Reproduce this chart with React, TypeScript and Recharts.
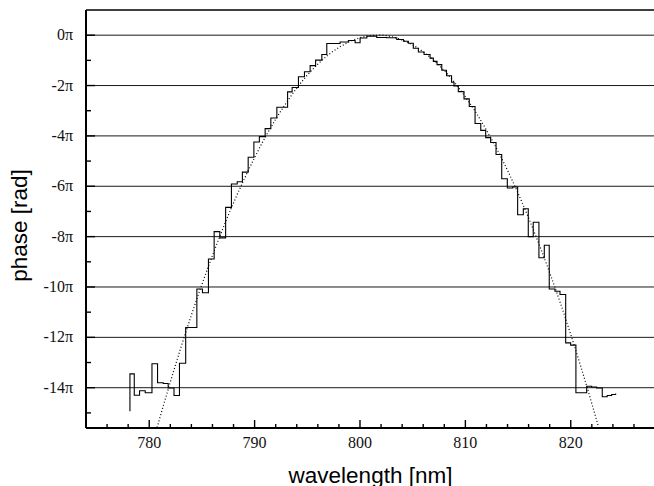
import React from 'react';
import { LineChart, Line, XAxis, YAxis, ReferenceLine, Label } from 'recharts';

// measured spectral phase (staircase), wavelength in nm, phase in units of pi
const measuredWavelength = [
  778.17, 778.17, 778.58, 779.08, 779.62, 780.26, 780.79, 781.33, 781.8, 782.35,
  782.87, 783.46, 784.52, 785.05, 785.62, 786.16, 786.7, 787.25, 787.8, 788.35,
  788.84, 789.39, 789.93, 790.45, 791.0, 791.54, 792.11, 793.13, 793.56, 794.16,
  794.73, 795.27, 795.79, 796.38, 796.85, 798.11, 798.9, 799.54, 800.01, 800.65,
  801.59, 802.54, 803.49, 804.12, 804.59, 805.06, 805.54, 806.08, 806.65, 806.96,
  807.31, 807.76, 808.21, 808.69, 808.92, 809.33, 809.87, 810.37, 810.92, 811.46,
  811.93, 812.4, 812.91, 813.45, 813.98, 814.49, 814.96, 815.5, 815.97, 816.44,
  816.98, 817.49, 817.96, 818.5, 818.98, 819.52, 819.99, 820.49, 821.51, 821.98,
  822.45, 822.99, 823.46, 823.88, 824.26,
];
const measuredPhase = [
  -14.93, -13.45, -14.3, -14.12, -14.2, -13.05, -13.8, -13.83, -14.01, -14.31,
  -13.03, -11.61, -10.08, -10.23, -8.89, -7.8, -8.05, -6.84, -5.91, -5.82,
  -5.44, -4.85, -4.24, -4.03, -3.71, -3.29, -2.86, -2.25, -2.08, -1.65,
  -1.45, -1.21, -0.99, -0.77, -0.33, -0.27, -0.21, -0.3, -0.11, -0.04,
  -0.09, -0.1, -0.17, -0.24, -0.32, -0.52, -0.67, -0.77, -0.91, -1.04,
  -1.17, -1.39, -1.61, -1.87, -2.02, -2.24, -2.53, -2.83, -3.51, -3.78,
  -4.07, -4.26, -4.74, -5.7, -6.07, -6.03, -7.13, -6.89, -8.0, -7.43,
  -8.84, -8.34, -10.08, -10.17, -10.3, -12.22, -12.31, -14.2, -13.94, -13.97,
  -14.01, -14.36, -14.31, -14.27, -14.23,
];

// dotted fit curve
const fitWavelength = [
  780.75, 781, 782, 783, 784, 785, 786, 787, 788, 789, 790, 791, 792, 793, 794,
  795, 796, 797, 798, 799, 800, 801, 802, 803, 804, 805, 806, 807, 808, 809,
  810, 811, 812, 813, 814, 815, 816, 817, 818, 819, 820, 821, 822, 822.65,
];
const fitPhase = [
  -15.58, -15.21, -13.78, -12.41, -11.12, -9.9, -8.75, -7.67, -6.66, -5.73, -4.86,
  -4.06, -3.34, -2.69, -2.1, -1.59, -1.15, -0.78, -0.49, -0.26, -0.1,
  -0.02, 0.0, -0.06, -0.19, -0.39, -0.66, -1.0, -1.41, -1.89, -2.45,
  -3.07, -3.77, -4.53, -5.37, -6.28, -7.26, -8.31, -9.43, -10.62, -11.89,
  -13.22, -14.63, -15.58,
];

const xTicks = [776, 778, 780, 782, 784, 786, 788, 790, 792, 794, 796, 798, 800, 802, 804, 806, 808, 810, 812, 814, 816, 818, 820, 822, 824, 826];
const xLabelTicks = [780, 790, 800, 810, 820];
const yTicks = [-15, -14, -13, -12, -11, -10, -9, -8, -7, -6, -5, -4, -3, -2, -1, 0];
const yLabelTicks = [-14, -12, -10, -8, -6, -4, -2, 0];
const gridValues = [-14, -12, -10, -8, -6, -4, -2, 0];

const measured = measuredWavelength.map((x, i) => ({ x, y: measuredPhase[i] }));
const fit = fitWavelength.map((x, i) => ({ x, y: fitPhase[i] }));

const X_DOMAIN: [number, number] = [774, 827.9];
const Y_DOMAIN: [number, number] = [-15.6, 1];

const serif = '"Liberation Serif", "Times New Roman", serif';
const sans = '"Liberation Sans", Arial, sans-serif';

const XTick = (props: any) => {
  const { x, y, payload } = props;
  const v = payload.value;
  const major = xLabelTicks.includes(v);
  return (
    <g>
      <line x1={x} x2={x} y1={y} y2={y - (major ? 8 : 4)} stroke="#000" strokeWidth={1.4} />
      {major && (
        <text x={x} y={y + 20} textAnchor="middle" fontFamily={serif} fontSize={16} fill="#111">
          {v}
        </text>
      )}
    </g>
  );
};

const YTick = (props: any) => {
  const { x, y, payload } = props;
  const v = payload.value;
  const major = yLabelTicks.includes(v);
  return (
    <g>
      <line x1={x} x2={x + (major ? 9 : 5)} y1={y} y2={y} stroke="#000" strokeWidth={1.4} />
      {major && (
        <text x={x - 13} y={y + 5} textAnchor="end" fontFamily={serif} fontSize={16} fill="#111">
          {`${v}π`}
        </text>
      )}
    </g>
  );
};

export default function App() {
  return (
    <div style={{ position: 'absolute', left: 0, top: 0, width: 654, height: 486, overflow: 'hidden', background: '#fff' }}>
      <LineChart width={654} height={486} margin={{ top: 9, right: 0, bottom: 57, left: 85 }}>
        <XAxis
          type="number"
          dataKey="x"
          domain={X_DOMAIN}
          allowDataOverflow
          ticks={xTicks}
          interval={0}
          height={1}
          tickSize={0}
          tickMargin={0}
          tickLine={false}
          tick={<XTick />}
          axisLine={{ stroke: '#000', strokeWidth: 2 }}
        >
          <Label
            content={() => (
              <text x={370.5} y={482.5} textAnchor="middle" fontFamily={sans} fontSize={22.5} fill="#000">
                wavelength [nm]
              </text>
            )}
          />
        </XAxis>
        <XAxis
          xAxisId="top"
          orientation="top"
          type="number"
          domain={X_DOMAIN}
          allowDataOverflow
          height={1}
          tick={false}
          tickLine={false}
          axisLine={{ stroke: '#000', strokeWidth: 1.5 }}
        />
        <YAxis
          type="number"
          domain={Y_DOMAIN}
          allowDataOverflow
          ticks={yTicks}
          interval={0}
          width={1}
          tickSize={0}
          tickMargin={0}
          tickLine={false}
          tick={<YTick />}
          axisLine={{ stroke: '#000', strokeWidth: 2 }}
        >
          <Label
            content={() => (
              <text
                x={27}
                y={225.5}
                textAnchor="middle"
                transform="rotate(-90 27 225.5)"
                fontFamily={sans}
                fontSize={22.5}
                fill="#000"
              >
                phase [rad]
              </text>
            )}
          />
        </YAxis>
        {gridValues.map((v) => (
          <ReferenceLine key={v} y={v} stroke="#1a1a1a" strokeWidth={1} />
        ))}
        <Line
          data={fit}
          dataKey="y"
          type="monotone"
          stroke="#000"
          strokeWidth={1.2}
          strokeDasharray="1 2.2"
          dot={false}
          activeDot={false}
          isAnimationActive={false}
        />
        <Line
          data={measured}
          dataKey="y"
          type="stepAfter"
          stroke="#000"
          strokeWidth={1.1}
          dot={false}
          activeDot={false}
          isAnimationActive={false}
        />
      </LineChart>
    </div>
  );
}
